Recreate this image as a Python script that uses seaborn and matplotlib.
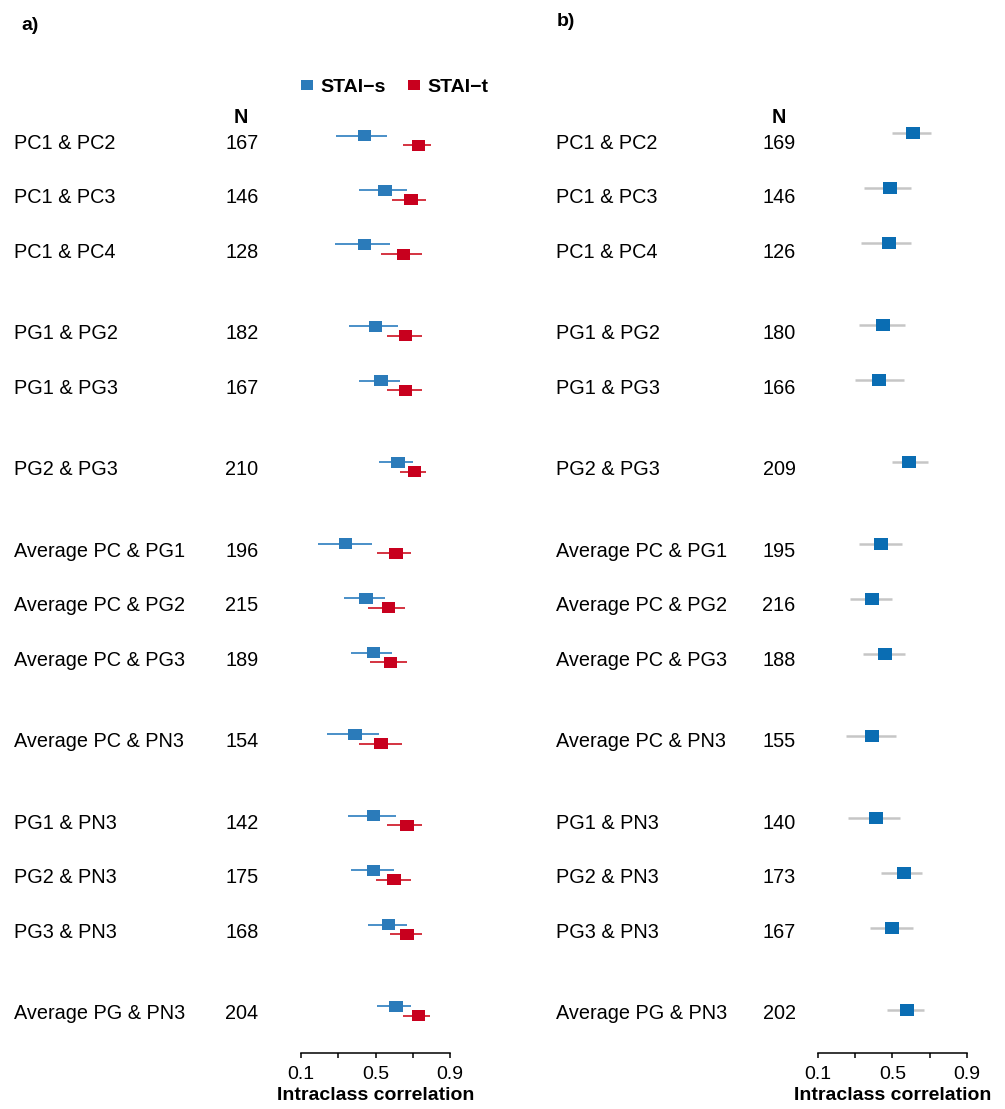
import numpy as np
import pandas as pd
import matplotlib.pyplot as plt
import matplotlib.transforms as mtransforms
from matplotlib.lines import Line2D
from matplotlib.path import Path
import seaborn as sns

sns.set_theme(style="white")
plt.rcParams['font.family'] = ['Liberation Sans', 'DejaVu Sans']
plt.rcParams['text.color'] = 'black'
plt.rcParams['xtick.color'] = 'black'
plt.rcParams['axes.labelcolor'] = 'black'

# ---- data ----
labels = ["PC1 & PC2", "PC1 & PC3", "PC1 & PC4", "PG1 & PG2", "PG1 & PG3",
          "PG2 & PG3", "Average PC & PG1", "Average PC & PG2", "Average PC & PG3",
          "Average PC & PN3", "PG1 & PN3", "PG2 & PN3", "PG3 & PN3",
          "Average PG & PN3"]
group = [0, 0, 0, 1, 1, 2, 3, 3, 3, 4, 5, 5, 5, 6]

# a) STAI-s / STAI-t
n_a = [167, 146, 128, 182, 167, 210, 196, 215, 189, 154, 142, 175, 168, 204]
stai_s_icc = [0.44, 0.55, 0.44, 0.50, 0.53, 0.62, 0.34, 0.45, 0.49, 0.39, 0.49, 0.49, 0.57, 0.61]
stai_s_lo = [0.29, 0.41, 0.28, 0.36, 0.41, 0.52, 0.19, 0.33, 0.37, 0.24, 0.35, 0.37, 0.46, 0.51]
stai_s_hi = [0.56, 0.67, 0.58, 0.62, 0.63, 0.70, 0.48, 0.55, 0.59, 0.52, 0.61, 0.60, 0.67, 0.69]
stai_t_icc = [0.73, 0.69, 0.65, 0.66, 0.66, 0.71, 0.61, 0.57, 0.58, 0.53, 0.67, 0.60, 0.67, 0.73]
stai_t_lo = [0.65, 0.59, 0.53, 0.56, 0.56, 0.63, 0.51, 0.46, 0.47, 0.41, 0.56, 0.50, 0.58, 0.65]
stai_t_hi = [0.80, 0.77, 0.75, 0.75, 0.75, 0.77, 0.69, 0.66, 0.67, 0.64, 0.75, 0.69, 0.75, 0.79]

# b) single measure
n_b = [169, 146, 126, 180, 166, 209, 195, 216, 188, 155, 140, 173, 167, 202]
b_icc = [0.61, 0.49, 0.48, 0.45, 0.43, 0.59, 0.44, 0.39, 0.46, 0.39, 0.41, 0.56, 0.50, 0.58]
b_lo = [0.50, 0.35, 0.33, 0.32, 0.30, 0.50, 0.32, 0.27, 0.34, 0.25, 0.26, 0.44, 0.38, 0.47]
b_hi = [0.71, 0.60, 0.60, 0.57, 0.56, 0.69, 0.55, 0.50, 0.57, 0.52, 0.54, 0.66, 0.61, 0.67]

BLUE = "#2B7BBA"
BLUE_LINE = "#4A8FC8"
RED = "#C8001E"
RED_LINE = "#D43340"
BLUE_B = "#0A6DB3"
GREY_B = "#C6C6C6"

rows = np.arange(len(labels)) + 0.5 * np.array(group)

W, H = 1005, 1109
fig = plt.figure(figsize=(W / 100, H / 100), dpi=100)


def box(x0, x1, y_top, y_bot):
    return [x0 / W, 1 - y_bot / H, (x1 - x0) / W, (y_bot - y_top) / H]


ax_a = fig.add_axes(box(301, 450, 100, 1052.7))
ax_b = fig.add_axes(box(818, 966.7, 100, 1052.7))

rect = Path([(-0.62, -0.5), (0.62, -0.5), (0.62, 0.5), (-0.62, 0.5), (-0.62, -0.5)])

# panel a
off = 0.088
df_a = pd.DataFrame({
    "y": np.concatenate([rows - off, rows + off]),
    "icc": stai_s_icc + stai_t_icc,
    "lo": stai_s_lo + stai_t_lo,
    "hi": stai_s_hi + stai_t_hi,
    "measure": ["STAI-s"] * len(labels) + ["STAI-t"] * len(labels),
})
for m, c in [("STAI-s", BLUE_LINE), ("STAI-t", RED_LINE)]:
    d = df_a[df_a["measure"] == m]
    ax_a.hlines(d["y"], d["lo"], d["hi"], color=c, lw=1.4, zorder=1)
sns.scatterplot(data=df_a, x="icc", y="y", hue="measure",
                palette={"STAI-s": BLUE, "STAI-t": RED},
                marker=rect, s=95, linewidth=0, legend=False, ax=ax_a, zorder=3)
ax_a.set_ylim(16.768, -0.744)

# panel b
df_b = pd.DataFrame({"y": rows, "icc": b_icc, "lo": b_lo, "hi": b_hi})
ax_b.hlines(df_b["y"], df_b["lo"], df_b["hi"], color=GREY_B, lw=1.8, zorder=1)
sns.scatterplot(data=df_b, x="icc", y="y", color=BLUE_B, marker=rect, s=99,
                linewidth=0, legend=False, ax=ax_b, zorder=3)
ax_b.set_ylim(16.78, -0.608)

for ax in (ax_a, ax_b):
    ax.set_xlim(0.1, 0.9)
    for s in ("left", "top", "right"):
        ax.spines[s].set_visible(False)
    ax.spines["bottom"].set_color("black")
    ax.spines["bottom"].set_linewidth(1.1)
    ax.set_xticks([0.1, 0.3, 0.5, 0.7, 0.9])
    ax.set_xticklabels(["0.1", "", "0.5", "", "0.9"])
    ax.tick_params(axis="x", direction="out", length=3.5, width=1.1, color="black",
                   labelsize=14, pad=6, bottom=True)
    ax.set_yticks([])
    ax.set_ylabel("")
    ax.set_xlabel("Intraclass correlation", fontsize=14, fontweight="bold", labelpad=3)
    ax.patch.set_alpha(0)

# text columns
FS = 14.3
trans = mtransforms.blended_transform_factory(fig.transFigure, ax_a.transData)
for lab, y, na, nb in zip(labels, rows, n_a, n_b):
    fig.text(14 / W, y + 0.05, lab, transform=trans, fontsize=FS, va="center", ha="left")
    fig.text(242 / W, y + 0.05, str(na), transform=trans, fontsize=FS, va="center", ha="center")
    fig.text(556 / W, y + 0.05, lab, transform=trans, fontsize=FS, va="center", ha="center" if False else "left")
    fig.text(779 / W, y + 0.05, str(nb), transform=trans, fontsize=FS, va="center", ha="center")
fig.text(241 / W, -0.43, "N", transform=trans, fontsize=FS, fontweight="bold", va="center", ha="center")
fig.text(779 / W, -0.43, "N", transform=trans, fontsize=FS, fontweight="bold", va="center", ha="center")

fig.text(21 / W, 1 - 26 / H, "a)", fontsize=14, fontweight="bold", va="center", ha="left")
fig.text(557 / W, 1 - 22 / H, "b)", fontsize=14, fontweight="bold", va="center", ha="left")

handles = [Line2D([], [], ls="", marker=rect, color=BLUE, markersize=8.6, markeredgewidth=0),
           Line2D([], [], ls="", marker=rect, color=RED, markersize=8.6, markeredgewidth=0)]
fig.legend(handles, ["STAI\u2212s", "STAI\u2212t"], loc="center",
           bbox_to_anchor=(394 / W, 1 - 87 / H), ncol=2, frameon=False,
           prop={"weight": "bold", "size": 14}, handlelength=0.7,
           handletextpad=0.35, columnspacing=1.1)

fig.savefig("out.png", dpi=100)
